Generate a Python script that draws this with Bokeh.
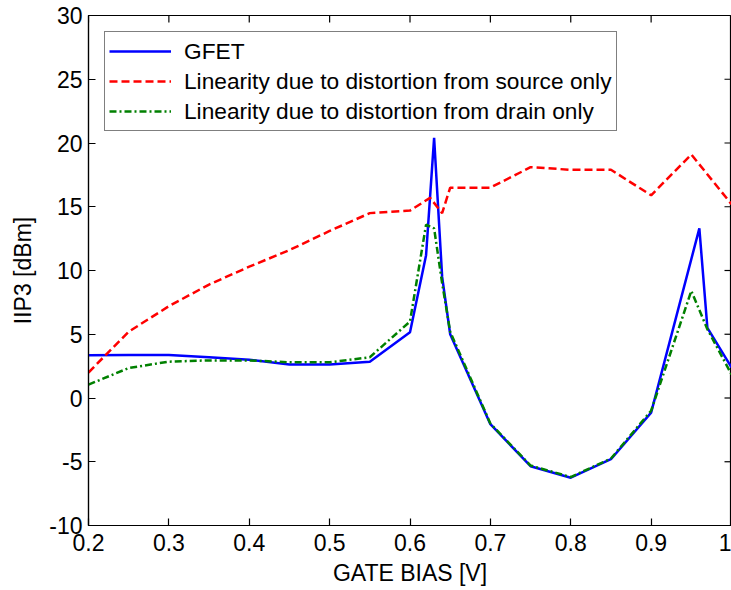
import math
from bokeh.plotting import figure
from bokeh.models import (Range1d, FixedTicker, PrintfTickFormatter,
                          Legend, LegendItem)
from bokeh.embed import file_html
from bokeh.resources import INLINE

# ---- data ----
gfet_x = [0.20, 0.25, 0.30, 0.35, 0.40, 0.45, 0.50, 0.55, 0.60, 0.62, 0.63, 0.64, 0.65,
          0.70, 0.75, 0.80, 0.85, 0.90, 0.96, 0.97, 1.00]
gfet_y = [3.35, 3.38, 3.38, 3.20, 3.00, 2.62, 2.62, 2.85, 5.15, 11.2, 20.4, 9.5, 5.0,
          -2.05, -5.35, -6.25, -4.80, -1.15, 13.3, 5.5, 2.4]

source_x = [0.20, 0.25, 0.30, 0.35, 0.40, 0.45, 0.50, 0.55, 0.60, 0.625, 0.64, 0.65,
            0.70, 0.75, 0.80, 0.85, 0.90, 0.95, 1.00]
source_y = [2.0, 5.2, 7.2, 8.9, 10.3, 11.6, 13.1, 14.5, 14.7, 15.7, 14.5, 16.5,
            16.5, 18.1, 17.9, 17.9, 15.9, 19.1, 15.2]

drain_x = [0.20, 0.25, 0.30, 0.35, 0.40, 0.45, 0.50, 0.55, 0.60, 0.62, 0.63, 0.64, 0.65,
           0.70, 0.75, 0.80, 0.85, 0.90, 0.95, 0.97, 1.00]
drain_y = [1.05, 2.35, 2.85, 2.95, 2.95, 2.80, 2.80, 3.20, 6.0, 13.6, 13.3, 9.0, 5.2,
           -2.0, -5.3, -6.2, -4.75, -1.0, 8.4, 5.4, 1.85]

x_ticks = [0.2, 0.3, 0.4, 0.5, 0.6, 0.7, 0.8, 0.9, 1.0]
y_ticks = [-10, -5, 0, 5, 10, 15, 20, 25, 30]

labels = ["GFET",
          "Linearity due to distortion from source only",
          "Linearity due to distortion from drain only"]

FONT = "Liberation Sans"
X_MIN, X_MAX = 0.2, 1.0
Y_MIN, Y_MAX = -10, 30

p = figure(width=731, height=590, output_backend="svg", toolbar_location=None,
           x_range=Range1d(X_MIN, X_MAX), y_range=Range1d(Y_MIN, Y_MAX),
           min_border_left=88, min_border_right=0, min_border_top=15,
           min_border_bottom=65)
p.background_fill_color = "white"
p.border_fill_color = "white"
p.grid.visible = False
p.outline_line_color = "black"
p.outline_line_width = 1.2

r1 = p.line(gfet_x, gfet_y, line_color="#0000FF", line_width=2.5)
r2 = p.line(source_x, source_y, line_color="#FF0000", line_width=2.5, line_dash="8 4")
r3 = p.line(drain_x, drain_y, line_color="#008000", line_width=2.5, line_dash="7 3 2 3")

# box ticks on the top and right sides (inward), like a MATLAB "box on" frame
p.ray(x=x_ticks, y=[Y_MAX] * len(x_ticks), length=7, length_units="screen",
      angle=-math.pi / 2, line_color="black", line_width=1.2)
p.ray(x=[X_MAX] * len(y_ticks), y=y_ticks, length=7, length_units="screen",
      angle=math.pi, line_color="black", line_width=1.2)

def style_axis(ax):
    ax.major_tick_in = 7
    ax.major_tick_out = 0
    ax.minor_tick_in = 0
    ax.minor_tick_out = 0
    ax.axis_line_color = "black"
    ax.axis_line_width = 1.2
    ax.major_tick_line_color = "black"
    ax.major_tick_line_width = 1.2
    ax.major_label_text_font = FONT
    ax.major_label_text_font_size = "23px"
    ax.major_label_text_color = "black"
    ax.axis_label_text_font = FONT
    ax.axis_label_text_font_size = "23px"
    ax.axis_label_text_font_style = "normal"
    ax.axis_label_text_color = "black"

xa = p.xaxis[0]
ya = p.yaxis[0]
xa.ticker = FixedTicker(ticks=x_ticks)
ya.ticker = FixedTicker(ticks=y_ticks)
xa.formatter = PrintfTickFormatter(format="%g")
ya.formatter = PrintfTickFormatter(format="%d")
style_axis(xa)
style_axis(ya)
xa.axis_label = "GATE BIAS [V]"
ya.axis_label = "IIP3 [dBm]"
xa.major_label_standoff = 8
ya.major_label_standoff = 6
xa.axis_label_standoff = 6
ya.axis_label_standoff = 10

legend = Legend(items=[LegendItem(label=labels[0], renderers=[r1]),
                       LegendItem(label=labels[1], renderers=[r2]),
                       LegendItem(label=labels[2], renderers=[r3])],
                location="top_left")
legend.margin = 16
legend.padding = 4
legend.spacing = 0
legend.label_height = 30
legend.glyph_height = 30
legend.glyph_width = 62
legend.label_standoff = 13
legend.label_text_font = FONT
legend.label_text_font_size = "22.7px"
legend.label_text_color = "black"
legend.border_line_color = "black"
legend.border_line_width = 1.2
legend.background_fill_color = "white"
legend.background_fill_alpha = 1.0
p.add_layout(legend, "center")

open("out.html", "w").write(file_html(p, INLINE))
